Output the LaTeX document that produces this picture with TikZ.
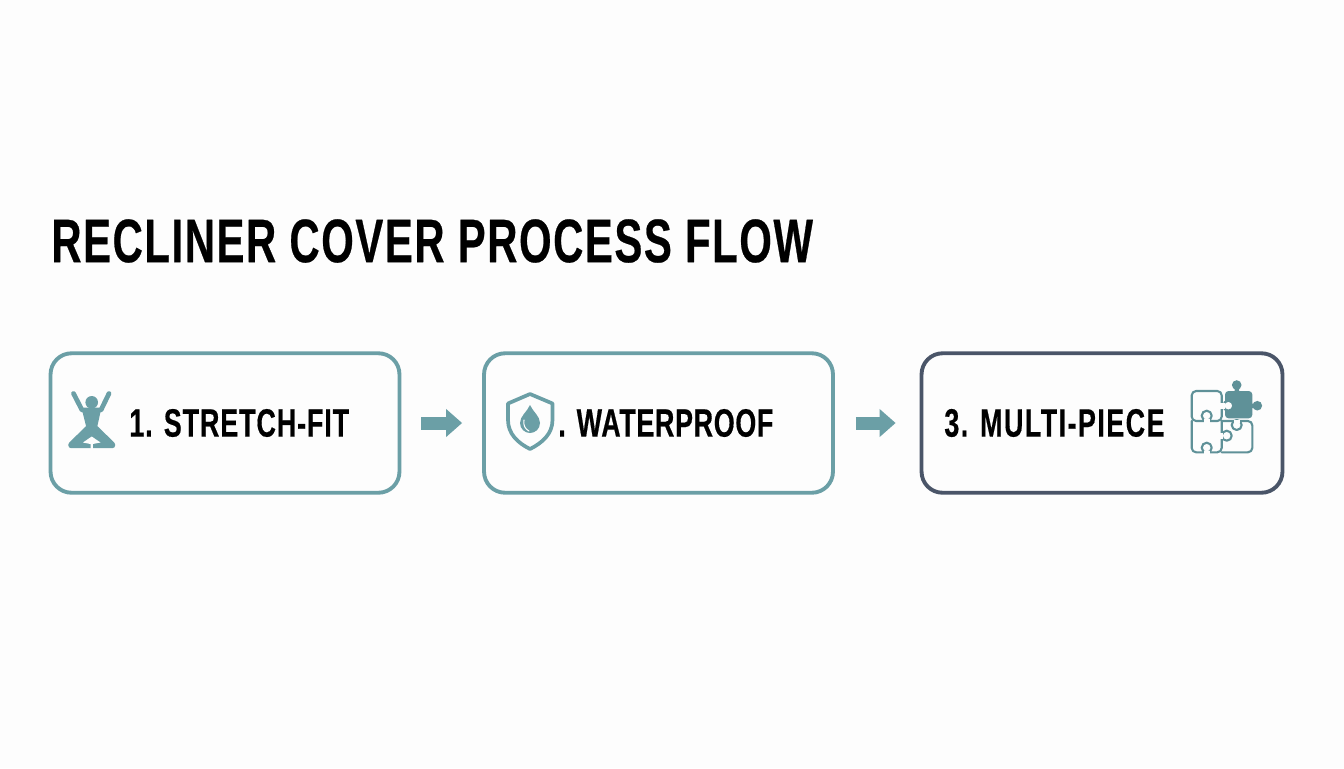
\documentclass[tikz,border=0pt]{standalone}
\usepackage{fontspec}
\usetikzlibrary{arrows.meta}
\newfontfamily\condfont[FakeStretch=0.68,LetterSpace=2.3,FakeBold=0.4]{Liberation Sans}
\definecolor{tealline}{HTML}{6B9FA6}
\definecolor{tealdark}{HTML}{5F9198}
\definecolor{slateline}{HTML}{4A5568}
\definecolor{paper}{HTML}{FDFDFD}
\tikzset{
  stepbox/.style={draw=tealline,line width=2.2pt,rounded corners=12pt,minimum height=2.79cm,minimum width=6.98cm},
  steptext/.style={anchor=west,inner sep=0pt,font=\condfont\bfseries\fontsize{22.5}{26}\selectfont},
  flowarrow/.style={draw=tealline,line width=.26cm,line cap=butt,-{Triangle[length=.32cm,width=.54cm]},shorten <=.4cm,shorten >=.4cm},
  puzzleline/.style={draw=tealdark,line width=1.2pt,line join=round,rounded corners=2.5pt},
}
\begin{document}
\begin{tikzpicture}[x=.02cm,y=-.02cm,line join=round,line cap=round]
\useasboundingbox (0,0) rectangle (1344,768);
\fill[paper] (0,0) rectangle (1344,768);
\node[anchor=west,inner sep=0pt,font=\condfont\bfseries\fontsize{35}{40}\selectfont] (title) at (51,241) {\addfontfeature{LetterSpace=2.6}RECLINER COVER PROCESS FLOW};
\node[stepbox] (stretch) at (225,423) {};
\node[stepbox] (water) at (658.5,423) {};
\node[stepbox,draw=slateline,minimum width=7.22cm] (multi) at (1102,423) {};
\draw[flowarrow] (stretch)--(water);
\draw[flowarrow,shorten <=.42cm,shorten >=.48cm] (water)--(multi);
\node[steptext] (stretchtext) at (129,423) {1. STRETCH-FIT};
\node[steptext] (watertext) at (558,423) {\addfontfeature{LetterSpace=1.7}. WATERPROOF};
\node[steptext] (multitext) at (944,423) {\addfontfeature{LetterSpace=3.7}3. MULTI-PIECE};
% person
\fill[tealline] (91.7,402.3) circle(6.3);
\draw[tealline,line width=2.7pt] (73.5,393.5)--(82,410)--(101,410)--(109,393.5);
\fill[tealline,draw=tealline,line width=3pt] (85,411)--(98,411)--(94.5,427)--(112.5,444.5)--(112.5,445.5)--(71,445.5)--(71,444.5)--(89,427)--cycle;
\fill[paper] (91.7,436.5)--(83,442.5)--(90.5,444)--(90.5,449.5)--(92.8,449.5)--(92.8,444)--(100.5,442.5)--cycle;
% shield
\draw[tealline,line width=2.1pt] (530,394)--(552.5,403.5)--(552.5,420) .. controls (552.5,434) and (542,443) .. (530,449) .. controls (518,443) and (508,434) .. (508,420)--(508,403.5)--cycle;
\fill[tealline] (530,405) .. controls (533,412) and (540,416) .. (540,423) .. controls (540,429) and (535,433) .. (530,433) .. controls (525,433) and (520,429) .. (520,423) .. controls (520,416) and (527,412) .. (530,405)--cycle;
\draw[paper,line width=.6pt] (524,420) .. controls (523,425) and (525,429) .. (529,431);
% puzzle
\fill[tealdark,rounded corners=2pt] (1225,391) rectangle (1252.3,418.3);
\fill[tealdark] (1236.7,385) circle(4.8) (1257.3,405.7) circle(4.8);
\fill[tealdark] (1234.5,385) rectangle (1239,392) (1251,403.5) rectangle (1258,408);
\draw[puzzleline] (1191.7,421)--(1191.7,391)--(1221.7,391)--(1221.7,421)--cycle;
\draw[puzzleline] (1191.7,421)--(1191.7,452.3)--(1221.7,452.3)--(1221.7,421);
\draw[puzzleline] (1221.7,421)--(1252.3,421)--(1252.3,452.3)--(1221.7,452.3);
\foreach \x/\y in {1228.3/405.7,1206.7/415.7,1206.7/447.7,1226.7/435.7,1236.7/425} \draw[tealdark,line width=1.2pt,fill=paper] (\x,\y) circle(5);
\fill[paper] (1220,402.5) rectangle (1224.5,409);
\fill[paper] (1203.5,419) rectangle (1210,423);
\fill[paper] (1203.5,450.5) rectangle (1210,454);
\fill[paper] (1220,432.5) rectangle (1223.3,439);
\fill[paper] (1233.5,419.5) rectangle (1240,422.5);
\end{tikzpicture}
\end{document}
